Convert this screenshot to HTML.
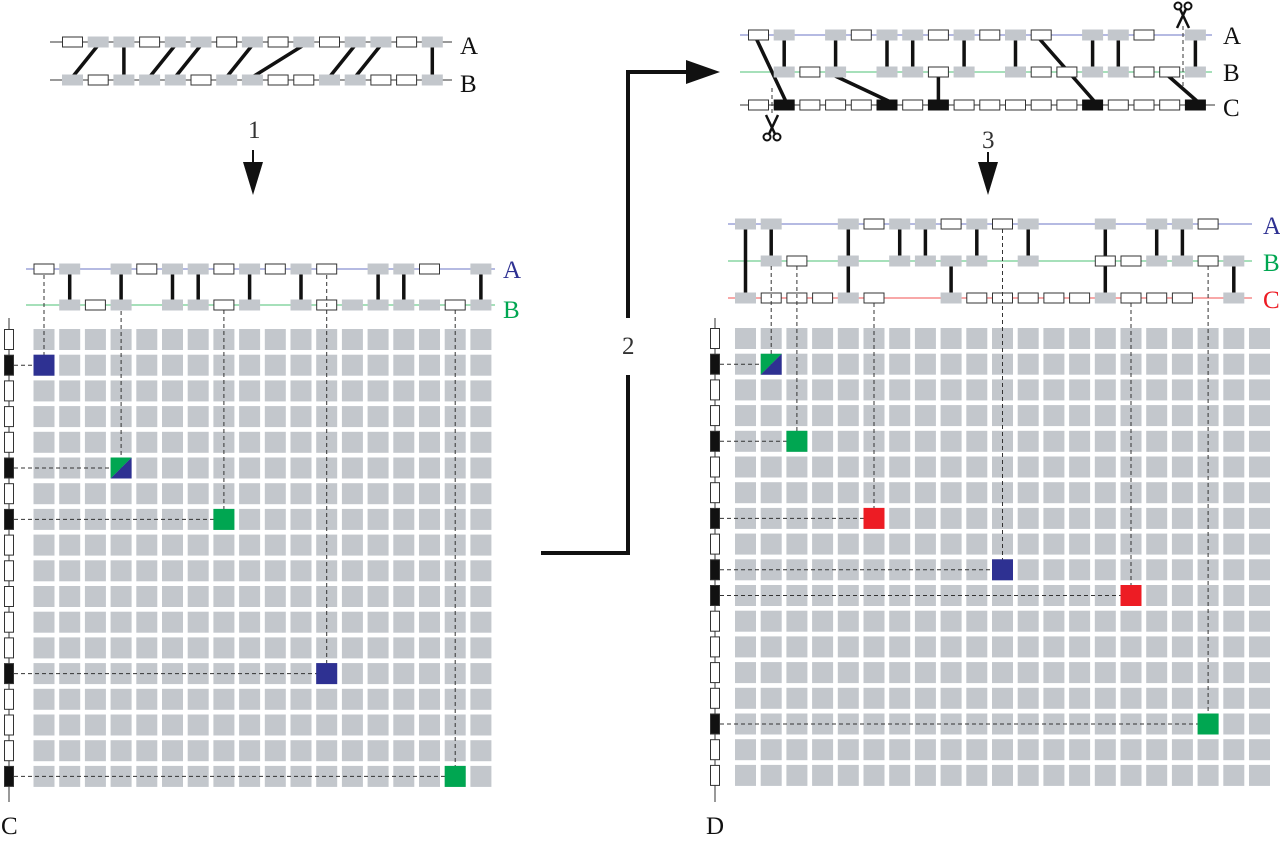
<!DOCTYPE html>
<html><head><meta charset="utf-8"><style>
body{margin:0;background:#fff;width:1280px;height:851px;overflow:hidden}
svg{display:block}
text{font-family:"Liberation Serif",serif;font-size:25px}
</style></head><body>
<svg id="s" width="1280" height="851" xmlns="http://www.w3.org/2000/svg">
<g id="g"></g>
<text x="460" y="54" fill="#111">A</text>
<text x="460" y="92" fill="#111">B</text>
<text x="248" y="138" font-size="22" fill="#333">1</text>
<text x="1223" y="44" fill="#111">A</text>
<text x="1223" y="81" fill="#111">B</text>
<text x="1223" y="116" fill="#111">C</text>
<text x="982" y="148" font-size="22" fill="#333">3</text>
<text x="622" y="354" font-size="22" fill="#333">2</text>
<text x="503" y="278" fill="#2e3192">A</text>
<text x="503" y="318" fill="#00a651">B</text>
<text x="1263" y="234" fill="#2e3192">A</text>
<text x="1263" y="271" fill="#00a651">B</text>
<text x="1263" y="308" fill="#ed1c24">C</text>
<text x="1" y="834" fill="#111">C</text>
<text x="706" y="834" fill="#111">D</text>
</svg>
<script>
var g=document.getElementById('g'),h='';
var GR='#c3c7cc',BL='#2e3192',GN='#00a651',RD='#ed1c24';
function R(x,y,w,hh,f,st){h+='<rect x="'+x+'" y="'+y+'" width="'+w+'" height="'+hh+'" fill="'+f+'"'+(st?' stroke="#333" stroke-width="1"':'')+'/>';}
function L(x1,y1,x2,y2,c,w,d){h+='<line x1="'+x1+'" y1="'+y1+'" x2="'+x2+'" y2="'+y2+'" stroke="'+c+'" stroke-width="'+w+'"'+(d?' stroke-dasharray="4,3"':'')+'/>';}
function gene(x,y,t){ if(t=='g')R(x,y-5.5,21,11,GR); else if(t=='w')R(x+0.5,y-5,20,10,'#fff',1); else if(t=='k')R(x,y-5.5,21,11,'#111');}
function sc(cx,hy,dir){ // handles at hy, blades toward dir (-1 up, +1 down)
 h+='<circle cx="'+(cx-5)+'" cy="'+hy+'" r="3.5" fill="none" stroke="#111" stroke-width="2"/>';
 h+='<circle cx="'+(cx+5)+'" cy="'+hy+'" r="3.5" fill="none" stroke="#111" stroke-width="2"/>';
 L(cx-3,hy+dir*3,cx+6,hy+dir*22,'#111',2.5);L(cx+3,hy+dir*3,cx-6,hy+dir*22,'#111',2.5);}
var P=25.7;
var x0=62, A1='wggwggwgwgwggwg', B1='gwgggwggwwggwwg';
L(50,42,452,42,'#333',1);L(50,80,452,80,'#333',1);
var cn=[[1,0],[2,2],[4,3],[5,4],[7,6],[9,7],[11,10],[12,11],[14,14]];
cn.forEach(function(c){L(x0+c[0]*P+10.5,45,x0+c[1]*P+10.5,77,'#111',3.5);});
for(var i=0;i<15;i++){gene(x0+i*P,42,A1[i]);gene(x0+i*P,80,B1[i]);}
L(253,150,253,165,'#111',2);h+='<polygon points="243,162 263,162 253,195" fill="#111"/>';
L(988,152,988,165,'#111',2);h+='<polygon points="978,162 998,162 988,195" fill="#111"/>';
h+='<polyline points="541,553 628,553 628,375" fill="none" stroke="#111" stroke-width="4"/>';
h+='<polyline points="628,318 628,72 690,72" fill="none" stroke="#111" stroke-width="4"/>';
h+='<polygon points="686,60 720,72 686,84" fill="#111"/>';
var x1=748, A2='wg-gwggwgwgw-ggw-g', B2='-gwg-ggwg-gwwggwwg', C2='wkwwwkwkwwwwwkwwwk';
L(740,35,1212,35,'#6b74c4',1);L(740,72,1212,72,'#4cc276',1);L(740,105,1215,105,'#333',1);
var v2=[[1,'AB'],[3,'AB'],[5,'AB'],[6,'AB'],[7,'BC'],[8,'AB'],[10,'AB'],[13,'AB'],[14,'AB'],[17,'AB']];
v2.forEach(function(c){var x=x1+c[0]*P+10.5;if(c[1]=='AB')L(x,38,x,69,'#111',3.5);else L(x,75,x,101,'#111',3.5);});
[[0,35,1,105],[3,72,5,105],[11,35,13,105],[16,72,17,105]].forEach(function(c){L(x1+c[0]*P+8,c[1]+3,x1+c[2]*P+12,c[3]-4,'#111',3.5);});
for(var i=0;i<18;i++){gene(x1+i*P,35,A2[i]);gene(x1+i*P,72,B2[i]);gene(x1+i*P,105,C2[i]);}
L(772,88,772,115,'#333',1,1);L(1183,26,1183,88,'#333',1,1);
sc(772,137,-1);sc(1183,6,1);
function grid(gx,gy,cols,rows){for(var r=0;r<rows;r++)for(var c=0;c<cols;c++)R(gx+c*P,gy+r*P,21,21,GR);}
function cell(gx,gy,c,r,f){R(gx+c*P,gy+r*P,21,21,f);}
function split(gx,gy,c,r){var x=gx+c*P,y=gy+r*P;h+='<polygon points="'+x+','+y+' '+(x+21)+','+y+' '+x+','+(y+21)+'" fill="'+GN+'"/><polygon points="'+(x+21)+','+y+' '+(x+21)+','+(y+21)+' '+x+','+(y+21)+'" fill="'+BL+'"/>';}
function side(x,gy,rows,blk){L(x+5,318,x+5,802,'#333',1);for(var r=0;r<rows;r++){var b=blk.indexOf(r)>=0;R(x+0.5,gy+r*P+0.5,9,20,b?'#111':'#fff',1);}}
var lx=33.5,ly=329;
grid(lx,ly,18,18);
L(26,269,495,269,'#6b74c4',1);L(26,305,495,305,'#4cc276',1);
var LA='wg-gwggwgwgw-ggw-g',LB='-gwg-ggwg-gwggggwg';
[1,3,5,6,8,10,13,14,17].forEach(function(c){var x=lx+c*P+10.5;L(x,272,x,302,'#111',3.5);});
for(var i=0;i<18;i++){gene(lx+i*P,269,LA[i]);gene(lx+i*P,305,LB[i]);}
side(4,ly,18,[1,5,7,13,17]);
[[0,1,275,BL],[3,5,311,'s'],[7,7,310,GN],[11,13,275,BL],[16,17,310,GN]].forEach(function(d){var x=lx+d[0]*P+10.5,y=ly+d[1]*P+10.5;L(x,d[2],x,y,'#333',1,1);L(14,y,x,y,'#333',1,1);if(d[3]=='s')split(lx,ly,d[0],d[1]);else cell(lx,ly,d[0],d[1],d[3]);});
var rx=735,ry=328;
grid(rx,ry,21,18);
L(728,224,1252,224,'#6b74c4',1);L(728,261,1252,261,'#4cc276',1);L(728,298,1252,298,'#f05050',1);
var RA='gg--gwggwgwg--g-ggw--',RB='-gw-g-gggg-g--wwggwg-',RC='gwwwgw--gwwwwwgwww-g-';
[[0,224,298],[1,224,261],[4,224,261],[4,261,298],[6,224,261],[7,224,261],[8,261,298],[9,224,261],[11,224,261],[14,224,298],[16,224,261],[17,224,261],[19,261,298]].forEach(function(c){var x=rx+c[0]*P+10.5;L(x,c[1]+3,x,c[2]-3,'#111',3.5);});
for(var i=0;i<21;i++){gene(rx+i*P,224,RA[i]);gene(rx+i*P,261,RB[i]);gene(rx+i*P,298,RC[i]);}
side(710,ry,18,[1,4,7,9,10,15]);
[[1,1,266,'s'],[2,4,266,GN],[5,7,303,RD],[10,9,229,BL],[15,10,303,RD],[18,15,266,GN]].forEach(function(d){var x=rx+d[0]*P+10.5,y=ry+d[1]*P+10.5;L(x,d[2],x,y,'#333',1,1);L(720,y,x,y,'#333',1,1);if(d[3]=='s')split(rx,ry,d[0],d[1]);else cell(rx,ry,d[0],d[1],d[3]);});
g.innerHTML=h;
</script>
</body></html>
